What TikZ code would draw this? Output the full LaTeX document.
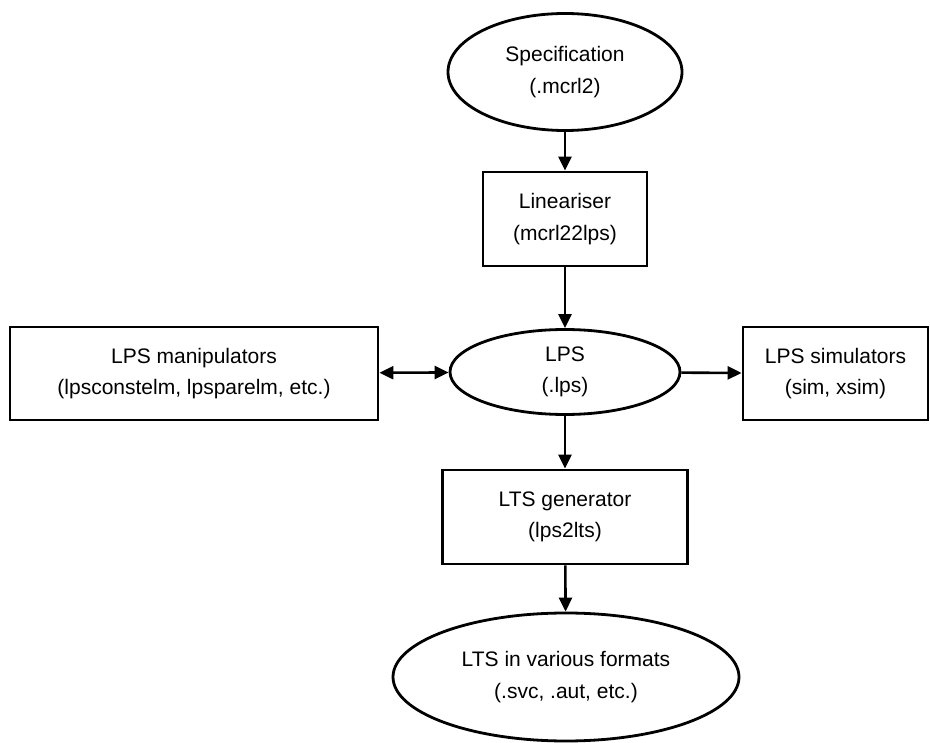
\documentclass[tikz,border=0pt]{standalone}
\usepackage{fontspec}
\setmainfont{Liberation Sans}
\usetikzlibrary{shapes.geometric,arrows.meta}
\begin{document}
\begin{tikzpicture}[x=1pt,y=-1pt,
  every node/.style={font=\fontsize{21}{31.5}\selectfont, align=center, inner sep=0pt},
  oval/.style={draw, line width=2.8pt, ellipse},
  tool/.style={draw, line width=2.8pt, rectangle},
  tip/.style={Triangle[length=14pt,width=13pt]},
  flow/.style={line width=2.6pt, -{Triangle[length=14pt,width=13pt]}},
  bothway/.style={line width=2.6pt, {Triangle[length=14pt,width=13pt]}-{Triangle[length=14pt,width=13pt]}}]
  \useasboundingbox (0,0) rectangle (930,743);
  % pipeline
  \node[oval, minimum width=234pt, minimum height=117pt] (spec) at (565,72) {Specification\\(.mcrl2)};
  \node[tool, minimum width=164pt, minimum height=94pt] (lin) at (565,219) {Lineariser\\(mcrl22lps)};
  \node[oval, minimum width=230pt, minimum height=85pt] (lps) at (565,372) {LPS\\(.lps)};
  \node[tool, minimum width=368pt, minimum height=93pt] (man) at (194,373.5) {LPS manipulators\\(lpsconstelm, lpsparelm, etc.)};
  \node[tool, minimum width=185pt, minimum height=93pt] (sim) at (835.5,373.5) {LPS simulators\\(sim, xsim)};
  \node[tool, minimum width=245pt, minimum height=94pt] (gen) at (565,517) {LTS generator\\(lps2lts)};
  \node[oval, minimum width=346pt, minimum height=128pt] (lts) at (566,677) {LTS in various formats\\(.svc, .aut, etc.)};
  % connectors
  \draw[flow] (spec) -- (lin);
  \draw[flow] (lin) -- (lps);
  \draw[flow] (lps) -- (gen);
  \draw[flow] (gen) -- (lts);
  \draw[flow] (lps) -- (sim);
  \draw[bothway] (man) -- (lps);
\end{tikzpicture}
\end{document}
